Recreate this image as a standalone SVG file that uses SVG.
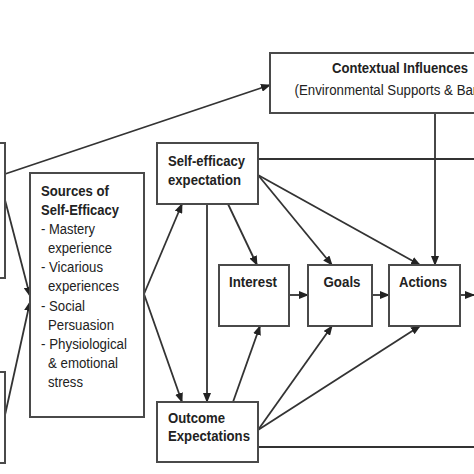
<svg xmlns="http://www.w3.org/2000/svg" width="474" height="474" viewBox="0 0 474 474">
<defs>
<style>
.box{fill:#fff;stroke:#4a4a4a;stroke-width:2}
.ln{fill:none;stroke:#333;stroke-width:1.8}
.arr{fill:none;stroke:#333;stroke-width:1.8;marker-end:url(#ah)}
text{font-family:"Liberation Sans",Arial,sans-serif;fill:#222;font-size:15.5px}
.b{font-weight:bold}
.m{text-anchor:middle}
</style>
<marker id="ah" markerUnits="userSpaceOnUse" markerWidth="10" markerHeight="8" refX="9" refY="4" orient="auto">
<path d="M0,0 L10,4 L0,8 z" fill="#222"/>
</marker>
</defs>
<rect width="474" height="474" fill="#fff"/>

<g id="connectors">
<line class="arr" x1="5" y1="174" x2="270" y2="85"/>
<line class="arr" x1="5" y1="200" x2="30" y2="296"/>
<line class="arr" x1="5" y1="415" x2="30" y2="302"/>
<line class="arr" x1="144" y1="294" x2="182" y2="204"/>
<line class="arr" x1="144" y1="294" x2="182" y2="402"/>
<line class="arr" x1="207" y1="204" x2="207" y2="402"/>
<line class="arr" x1="228" y1="204" x2="257" y2="265"/>
<line class="arr" x1="258" y1="175" x2="332" y2="265"/>
<line class="arr" x1="258" y1="175" x2="420" y2="265"/>
<line class="arr" x1="435" y1="113" x2="435" y2="265"/>
<line class="arr" x1="233" y1="402" x2="260" y2="326"/>
<line class="arr" x1="258" y1="430" x2="332" y2="326"/>
<line class="arr" x1="258" y1="430" x2="420" y2="326"/>
<line class="arr" x1="289" y1="295" x2="308" y2="295"/>
<line class="arr" x1="372" y1="295" x2="389" y2="295"/>
<line class="arr" x1="460" y1="295" x2="474" y2="295"/>
<line class="ln" x1="258" y1="159" x2="474" y2="159"/>
<line class="ln" x1="258" y1="447" x2="474" y2="447"/>
</g>

<g id="left-top">
<rect class="box" x="-20" y="143" width="25" height="135"/>
</g>
<g id="left-bottom">
<rect class="box" x="-20" y="372" width="25" height="91"/>
</g>

<g id="contextual">
<rect class="box" x="270" y="53" width="262" height="60"/>
<text class="b m" x="400" y="73" textLength="136" lengthAdjust="spacingAndGlyphs">Contextual Influences</text>
<text class="m" x="401" y="95" textLength="213" lengthAdjust="spacingAndGlyphs">(Environmental Supports &amp; Barriers)</text>
</g>

<g id="sources">
<rect class="box" x="30" y="173" width="114" height="244"/>
<text class="b" x="41" y="196" textLength="68" lengthAdjust="spacingAndGlyphs">Sources of</text>
<text class="b" x="41" y="215" textLength="78" lengthAdjust="spacingAndGlyphs">Self-Efficacy</text>
<text x="41" y="234" textLength="54" lengthAdjust="spacingAndGlyphs">- Mastery</text>
<text x="48" y="253" textLength="64" lengthAdjust="spacingAndGlyphs">experience</text>
<text x="41" y="272" textLength="62" lengthAdjust="spacingAndGlyphs">- Vicarious</text>
<text x="48" y="291" textLength="71" lengthAdjust="spacingAndGlyphs">experiences</text>
<text x="41" y="311" textLength="44" lengthAdjust="spacingAndGlyphs">- Social</text>
<text x="48" y="330" textLength="66" lengthAdjust="spacingAndGlyphs">Persuasion</text>
<text x="41" y="349" textLength="86" lengthAdjust="spacingAndGlyphs">- Physiological</text>
<text x="48" y="368" textLength="70" lengthAdjust="spacingAndGlyphs">&amp; emotional</text>
<text x="48" y="387" textLength="35" lengthAdjust="spacingAndGlyphs">stress</text>
</g>

<g id="self-efficacy">
<rect class="box" x="157" y="143" width="101" height="61"/>
<text class="b" x="168" y="166" textLength="77" lengthAdjust="spacingAndGlyphs">Self-efficacy</text>
<text class="b" x="168" y="185" textLength="73" lengthAdjust="spacingAndGlyphs">expectation</text>
</g>

<g id="outcome">
<rect class="box" x="157" y="402" width="101" height="60"/>
<text class="b" x="168" y="423" textLength="57" lengthAdjust="spacingAndGlyphs">Outcome</text>
<text class="b" x="168" y="441" textLength="82" lengthAdjust="spacingAndGlyphs">Expectations</text>
</g>

<g id="interest">
<rect class="box" x="219" y="265" width="70" height="61"/>
<text class="b m" x="253" y="287" textLength="48" lengthAdjust="spacingAndGlyphs">Interest</text>
</g>
<g id="goals">
<rect class="box" x="308" y="265" width="64" height="61"/>
<text class="b m" x="342" y="287" textLength="37" lengthAdjust="spacingAndGlyphs">Goals</text>
</g>
<g id="actions">
<rect class="box" x="389" y="265" width="71" height="61"/>
<text class="b m" x="423" y="287" textLength="48" lengthAdjust="spacingAndGlyphs">Actions</text>
</g>
</svg>
